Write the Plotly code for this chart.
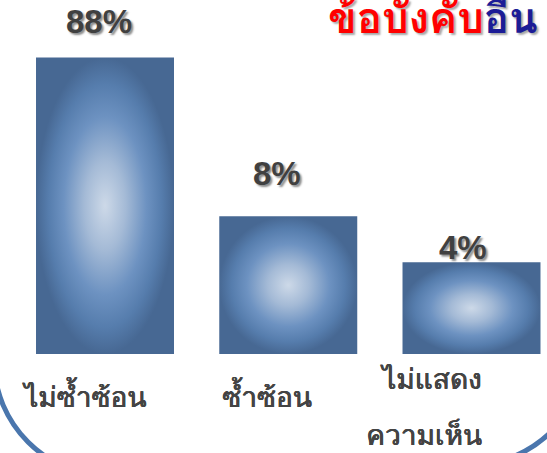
import math
import plotly.graph_objects as go

# --- data -------------------------------------------------------------
categories = ["ไม่ซ้ำซ้อน", "ซ้ำซ้อน", "ไม่แสดง<br>ความเห็น"]
percent = [88, 8, 4]
value_labels = ["88%", "8%", "4%"]
title_red = "ข้อบังคับ"
title_blue = "อื่น"

# --- layout constants -------------------------------------------------
W, H = 547, 453
BAR_W = 0.753
BASE = 1  # bars start at 10^0 on the log axis
label_yshift = [36, 43, 15]
label_xshift = [-6, -11, -9]

THAI = "Tahoma, Loma, Noto Sans Thai, sans-serif"
GRAD = [[0.0, "#CDD9E8"], [0.3, "#A4BAD6"], [0.6, "#6D92C1"],
        [0.82, "#567DAD"], [1.0, "#476893"]]


def paper(x, y):
    return x / W, 1 - y / H


fig = go.Figure()

for i, v in enumerate(percent):
    x0, x1 = i - BAR_W / 2, i + BAR_W / 2
    fig.add_trace(go.Scatter(
        x=[x0, x1, x1, x0, x0],
        y=[BASE, BASE, v, v, BASE],
        mode="lines",
        line=dict(width=0),
        fill="toself",
        fillgradient=dict(type="radial", colorscale=GRAD),
        hoverinfo="skip",
        showlegend=False,
    ))
    # log axes place annotations in log10 units
    fig.add_annotation(
        x=i, y=math.log10(v), xref="x", yref="y",
        text=value_labels[i], showarrow=False,
        xanchor="center", yanchor="middle",
        xshift=label_xshift[i], yshift=label_yshift[i],
        font=dict(family="Liberation Sans, Arial", size=33, color="#404040",
                  weight="bold", shadow="2px 2px 2px rgba(0,0,0,0.45)"),
    )

# category names under the bars (multi-line names are right-aligned)
cat_font = dict(family=THAI, size=28, color="#444444",
                shadow="0.7px 0 0 #444444, 0 0.4px 0 #444444")
for i, name in enumerate(categories):
    lines = name.split("<br>")
    if len(lines) == 1:
        fig.add_annotation(
            x=i, y=paper(0, 397)[1], xref="x", yref="paper",
            text=name, showarrow=False, xanchor="center", yanchor="middle",
            xshift=-21, font=cat_font,
        )
    else:
        for line, ypx in zip(lines, [379, 435]):
            fig.add_annotation(
                x=i, y=paper(0, ypx)[1], xref="x", yref="paper",
                text=line, showarrow=False, xanchor="right", yanchor="middle",
                xshift=12, font=cat_font,
            )

# heading, partly clipped by the top edge
tx, ty = paper(540, 18)
fig.add_annotation(
    x=tx, y=ty, xref="paper", yref="paper", showarrow=False,
    xanchor="right", yanchor="middle",
    text=(f"<span style='color:#FF0000'>{title_red}</span>"
          f"<span style='color:#1C1C96'>{title_blue}</span>"),
    font=dict(family=THAI, size=42, weight="bold",
              shadow="2px 2px 2px rgba(0,0,0,0.35)"),
)


def path(cmds):
    out = []
    for cmd, pts in cmds:
        coords = " ".join(f"{paper(x, y)[0]:.5f},{paper(x, y)[1]:.5f}" for x, y in pts)
        out.append(f"{cmd} {coords}")
    return " ".join(out)


frame = dict(color="#4A76AD", width=5)
fig.add_shape(type="path", xref="paper", yref="paper", line=frame,
              path=path([("M", [(-6, 300)]), ("L", [(-6, 360)]),
                         ("C", [(-6, 424), (46, 476), (110, 476)])]))
fig.add_shape(type="path", xref="paper", yref="paper", line=frame,
              path=path([("M", [(586, 349)]),
                         ("C", [(586, 413), (534, 465), (470, 465)])]))

fig.update_layout(
    width=W, height=H,
    margin=dict(l=0, r=0, t=0, b=0),
    paper_bgcolor="white", plot_bgcolor="white",
    xaxis=dict(visible=False, range=[-0.573, 2.412], fixedrange=True),
    yaxis=dict(visible=False, type="log", range=[-0.649, 2.321], fixedrange=True),
)

fig.write_html("out.html")
